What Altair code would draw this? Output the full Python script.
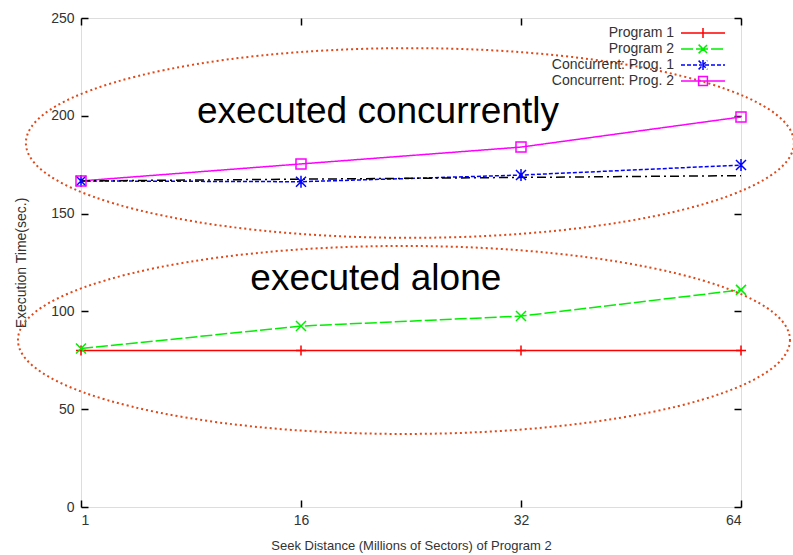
import json
import altair as alt
import pandas as pd

# ---------------- data ----------------
x_labels = ["1", "16", "32", "64"]
x_index = [0, 1, 2, 3]
series_names = ["Program 1", "Program 2", "Concurrent: Prog. 1", "Concurrent: Prog. 2"]
program1 = [80, 80, 80, 80]
program2 = [81, 92.5, 97.6, 111]
conc1 = [166.7, 166.3, 169.7, 174.8]
conc2 = [166.7, 175.4, 184, 199.4]
ref_x = [0, 3]
ref_y = [166.7, 169.4]

annot_text = ["executed concurrently", "executed alone"]
annot_x = [1.35, 1.34]
annot_y = [196.3, 111]

ellipse_cx = [1.495, 1.468]
ellipse_cy = [186.1, 85.4]

# ---------------- styles ----------------
colors = ["#ff0000", "#00ee00", "#0000ff", "#ff00ff"]
dashes = [[1, 0], [12, 3], [4, 2], [1, 0]]
marker_paths = [
    "M-1,0L1,0M0,-1L0,1",
    "M-1,-1L1,1M-1,1L1,-1",
    "M-1,-1L1,1M-1,1L1,-1M0,-1.2L0,1.2",
    "M-1,-1L1,-1L1,1L-1,1Z",
]
legend_paths = [
    "M-4,0L4,0M0,-0.9L0,0.9",
    "M-4,0L4,0M-0.8,-0.8L0.8,0.8M-0.8,0.8L0.8,-0.8",
    "M-4,0L4,0M-0.8,-0.8L0.8,0.8M-0.8,0.8L0.8,-0.8M0,-0.9L0,0.9",
    "M-4,0L4,0M-0.8,-0.8L0.8,-0.8L0.8,0.8L-0.8,0.8Z",
]
FONT = "Liberation Sans"


def ellipse_path(r):
    k = 0.5523
    return (f"M1,0C1,{k*r:.4f} {k},{r:.4f} 0,{r:.4f}"
            f"C{-k},{r:.4f} -1,{k*r:.4f} -1,0"
            f"C-1,{-k*r:.4f} {-k},{-r:.4f} 0,{-r:.4f}"
            f"C{k},{-r:.4f} 1,{-k*r:.4f} 1,0Z")


rows = []
for name, vals in zip(series_names, [program1, program2, conc1, conc2]):
    for xi, v in zip(x_index, vals):
        rows.append({"series": name, "dash": name, "xi": xi, "y": v})
df = pd.DataFrame(rows)
ref_df = pd.DataFrame({"xi": ref_x, "y": ref_y})
ann_df = pd.DataFrame({"text": annot_text, "xi": annot_x, "y": annot_y})
ell1 = pd.DataFrame({"xi": [ellipse_cx[0]], "y": [ellipse_cy[0]]})
ell2 = pd.DataFrame({"xi": [ellipse_cx[1]], "y": [ellipse_cy[1]]})

xscale = alt.Scale(domain=[0, 3], nice=False, zero=False)
yscale = alt.Scale(domain=[0, 250], nice=False)

label_expr = json.dumps(x_labels) + "[datum.value]"
x_axis_main = alt.Axis(values=x_index, labelExpr=label_expr,
                       title="Seek Distance (Millions of Sectors) of Program 2",
                       orient="bottom", domain=False, grid=False, ticks=True,
                       tickSize=7, offset=-7, tickColor="#000", tickWidth=1.5,
                       labelPadding=6, labelFontSize=14, labelColor="#333",
                       labelFont=FONT, titleFont=FONT, titleFontSize=13,
                       titleFontWeight="normal", titleColor="#333", titlePadding=12)
y_axis_main = alt.Axis(values=[0, 50, 100, 150, 200, 250], title="Execution Time(sec.)",
                       orient="left", domain=False, grid=False, ticks=True,
                       tickSize=7, offset=-7, tickColor="#000", tickWidth=1.5,
                       labelPadding=7, labelFontSize=14, labelColor="#333",
                       labelFont=FONT, titleFont=FONT, titleFontSize=14,
                       titleFontWeight="normal", titleColor="#333", titlePadding=22)
x_axis_mirror = alt.Axis(values=x_index, title=None, orient="top", labels=False,
                         domain=False, grid=False, tickSize=7, offset=-7,
                         tickColor="#000", tickWidth=1.5)
y_axis_mirror = alt.Axis(values=[0, 50, 100, 150, 200, 250], title=None, orient="right",
                         labels=False, domain=False, grid=False, tickSize=7, offset=-7,
                         tickColor="#000", tickWidth=1.5)

shape_expr = ""
for name, p in zip(series_names, legend_paths):
    shape_expr += f"datum.value === {json.dumps(name)} ? {json.dumps(p)} : "
shape_expr += json.dumps(legend_paths[0])
dash_expr = f"datum.value === {json.dumps(series_names[2])} ? [4,2] : [1,0]"

legend = alt.Legend(title=None, orient="none", legendX=615, legendY=8, labelAlign="right",
                    labelOffset={"expr": "-36"}, labelFontSize=14, labelFont=FONT,
                    labelColor="#333",
                    symbolType={"expr": shape_expr},
                    symbolDash={"expr": dash_expr},
                    symbolFillColor="transparent",
                    symbolSize=121, symbolStrokeWidth=1.5, rowPadding=0)

color_scale = alt.Scale(domain=series_names, range=colors)

lines = alt.Chart(df).mark_line(strokeWidth=1.5).encode(
    x=alt.X("xi:Q", scale=xscale, axis=x_axis_main),
    y=alt.Y("y:Q", scale=yscale, axis=y_axis_main),
    color=alt.Color("series:N", scale=color_scale, legend=legend, sort=series_names),
    strokeDash=alt.StrokeDash("dash:N", scale=alt.Scale(domain=series_names, range=dashes),
                              legend=None),
)

ref_line = alt.Chart(ref_df).mark_line(color="black", strokeWidth=1.5,
                                       strokeDash=[9, 4, 2, 4]).encode(
    x=alt.X("xi:Q", scale=xscale, axis=x_axis_mirror),
    y=alt.Y("y:Q", scale=yscale, axis=y_axis_mirror),
)

point_layers = []
for name, col, path in zip(series_names, colors, marker_paths):
    point_layers.append(
        alt.Chart(df).transform_filter(alt.datum.series == name).mark_point(
            filled=False, size=100, strokeWidth=1.5, opacity=1, shape=path, color=col
        ).encode(
            x=alt.X("xi:Q", scale=xscale, axis=None),
            y=alt.Y("y:Q", scale=yscale, axis=None),
        )
    )

ell_style = dict(filled=False, stroke="#e04818", strokeWidth=2, strokeDash=[2, 3],
                 opacity=1, clip=False)
e1 = alt.Chart(ell1).mark_point(shape=ellipse_path(0.247), size=768 ** 2, **ell_style).encode(
    x=alt.X("xi:Q", scale=xscale, axis=None),
    y=alt.Y("y:Q", scale=yscale, axis=None),
)
e2 = alt.Chart(ell2).mark_point(shape=ellipse_path(0.2435), size=772 ** 2, **ell_style).encode(
    x=alt.X("xi:Q", scale=xscale, axis=None),
    y=alt.Y("y:Q", scale=yscale, axis=None),
)

texts = alt.Chart(ann_df).mark_text(font=FONT, fontSize=37, color="black",
                                    align="center", baseline="alphabetic").encode(
    x=alt.X("xi:Q", scale=xscale, axis=None),
    y=alt.Y("y:Q", scale=yscale, axis=None),
    text="text:N",
)

chart = alt.layer(lines, ref_line, *point_layers, texts, e1, e2).resolve_axis(
    x="independent", y="independent"
).properties(
    width=660, height=489,
    autosize=alt.AutoSizeParams(type="none"),
    padding={"left": 81, "top": 18, "right": 52, "bottom": 48},
).configure_view(stroke="black", strokeWidth=1.5).configure(background="white")

chart.save("out.html", embed_options={"renderer": "svg", "actions": False})
